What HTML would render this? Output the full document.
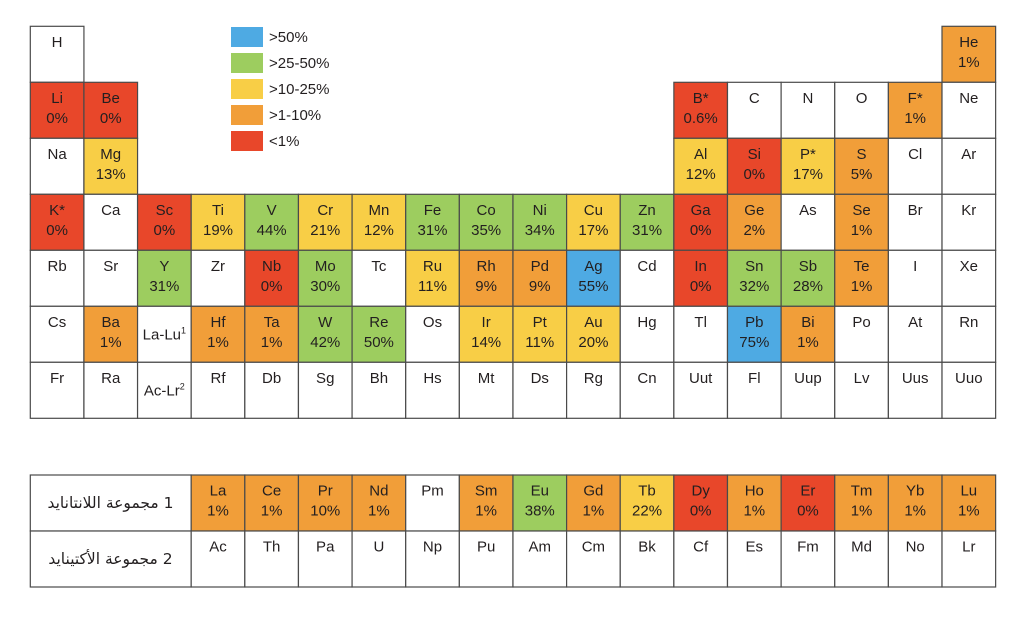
<!DOCTYPE html>
<html><head><meta charset="utf-8">
<style>
html,body{margin:0;padding:0;background:#fff;}
body{width:1024px;height:620px;position:relative;overflow:hidden;}
svg{position:absolute;left:0;top:0;}
svg text{font-family:"Liberation Sans",sans-serif;font-size:15px;fill:#231f20;text-anchor:middle;}
svg text.lg{text-anchor:start;}
svg rect.c{stroke:#4a4a4a;stroke-width:1.2;}
.ar{position:absolute;left:30px;width:161px;text-align:center;font-family:"DejaVu Sans",sans-serif;font-size:15.5px;color:#231f20;direction:rtl;line-height:20px;}
</style></head><body>
<svg width="1024" height="620" viewBox="0 0 1024 620">
<!-- legend -->
<rect x="231" y="27" width="32" height="20" fill="#4eaae3"/>
<rect x="231" y="53" width="32" height="20" fill="#9dcd5f"/>
<rect x="231" y="79" width="32" height="20" fill="#f8ce46"/>
<rect x="231" y="105" width="32" height="20" fill="#f19e39"/>
<rect x="231" y="131" width="32" height="20" fill="#e8472a"/>
<text class="lg" x="269" y="42">&gt;50%</text>
<text class="lg" x="269" y="68">&gt;25-50%</text>
<text class="lg" x="269" y="94">&gt;10-25%</text>
<text class="lg" x="269" y="120">&gt;1-10%</text>
<text class="lg" x="269" y="146">&lt;1%</text>

<!-- Row 1 -->
<g transform="translate(30.3,26.3)"><rect class="c" width="53.63" height="56" fill="#fff"/><text x="26.8" y="20.5">H</text></g>
<g transform="translate(942.0,26.3)"><rect class="c" width="53.63" height="56" fill="#f19e39"/><text x="26.8" y="20.5">He</text><text x="26.8" y="40.5">1%</text></g>

<!-- Row 2 -->
<g transform="translate(30.3,82.3)"><rect class="c" width="53.63" height="56" fill="#e8472a"/><text x="26.8" y="20.5">Li</text><text x="26.8" y="40.5">0%</text></g>
<g transform="translate(83.93,82.3)"><rect class="c" width="53.63" height="56" fill="#e8472a"/><text x="26.8" y="20.5">Be</text><text x="26.8" y="40.5">0%</text></g>
<g transform="translate(673.86,82.3)"><rect class="c" width="53.63" height="56" fill="#e8472a"/><text x="26.8" y="20.5">B*</text><text x="26.8" y="40.5">0.6%</text></g>
<g transform="translate(727.49,82.3)"><rect class="c" width="53.63" height="56" fill="#fff"/><text x="26.8" y="20.5">C</text></g>
<g transform="translate(781.12,82.3)"><rect class="c" width="53.63" height="56" fill="#fff"/><text x="26.8" y="20.5">N</text></g>
<g transform="translate(834.75,82.3)"><rect class="c" width="53.63" height="56" fill="#fff"/><text x="26.8" y="20.5">O</text></g>
<g transform="translate(888.38,82.3)"><rect class="c" width="53.63" height="56" fill="#f19e39"/><text x="26.8" y="20.5">F*</text><text x="26.8" y="40.5">1%</text></g>
<g transform="translate(942.01,82.3)"><rect class="c" width="53.63" height="56" fill="#fff"/><text x="26.8" y="20.5">Ne</text></g>

<!-- Row 3 -->
<g transform="translate(30.3,138.3)"><rect class="c" width="53.63" height="56" fill="#fff"/><text x="26.8" y="20.5">Na</text></g>
<g transform="translate(83.93,138.3)"><rect class="c" width="53.63" height="56" fill="#f8ce46"/><text x="26.8" y="20.5">Mg</text><text x="26.8" y="40.5">13%</text></g>
<g transform="translate(673.86,138.3)"><rect class="c" width="53.63" height="56" fill="#f8ce46"/><text x="26.8" y="20.5">Al</text><text x="26.8" y="40.5">12%</text></g>
<g transform="translate(727.49,138.3)"><rect class="c" width="53.63" height="56" fill="#e8472a"/><text x="26.8" y="20.5">Si</text><text x="26.8" y="40.5">0%</text></g>
<g transform="translate(781.12,138.3)"><rect class="c" width="53.63" height="56" fill="#f8ce46"/><text x="26.8" y="20.5">P*</text><text x="26.8" y="40.5">17%</text></g>
<g transform="translate(834.75,138.3)"><rect class="c" width="53.63" height="56" fill="#f19e39"/><text x="26.8" y="20.5">S</text><text x="26.8" y="40.5">5%</text></g>
<g transform="translate(888.38,138.3)"><rect class="c" width="53.63" height="56" fill="#fff"/><text x="26.8" y="20.5">Cl</text></g>
<g transform="translate(942.01,138.3)"><rect class="c" width="53.63" height="56" fill="#fff"/><text x="26.8" y="20.5">Ar</text></g>

<!-- Row 4 -->
<g transform="translate(30.3,194.3)"><rect class="c" width="53.63" height="56" fill="#e8472a"/><text x="26.8" y="20.5">K*</text><text x="26.8" y="40.5">0%</text></g>
<g transform="translate(83.93,194.3)"><rect class="c" width="53.63" height="56" fill="#fff"/><text x="26.8" y="20.5">Ca</text></g>
<g transform="translate(137.56,194.3)"><rect class="c" width="53.63" height="56" fill="#e8472a"/><text x="26.8" y="20.5">Sc</text><text x="26.8" y="40.5">0%</text></g>
<g transform="translate(191.19,194.3)"><rect class="c" width="53.63" height="56" fill="#f8ce46"/><text x="26.8" y="20.5">Ti</text><text x="26.8" y="40.5">19%</text></g>
<g transform="translate(244.82,194.3)"><rect class="c" width="53.63" height="56" fill="#9dcd5f"/><text x="26.8" y="20.5">V</text><text x="26.8" y="40.5">44%</text></g>
<g transform="translate(298.45,194.3)"><rect class="c" width="53.63" height="56" fill="#f8ce46"/><text x="26.8" y="20.5">Cr</text><text x="26.8" y="40.5">21%</text></g>
<g transform="translate(352.08,194.3)"><rect class="c" width="53.63" height="56" fill="#f8ce46"/><text x="26.8" y="20.5">Mn</text><text x="26.8" y="40.5">12%</text></g>
<g transform="translate(405.71,194.3)"><rect class="c" width="53.63" height="56" fill="#9dcd5f"/><text x="26.8" y="20.5">Fe</text><text x="26.8" y="40.5">31%</text></g>
<g transform="translate(459.34,194.3)"><rect class="c" width="53.63" height="56" fill="#9dcd5f"/><text x="26.8" y="20.5">Co</text><text x="26.8" y="40.5">35%</text></g>
<g transform="translate(512.97,194.3)"><rect class="c" width="53.63" height="56" fill="#9dcd5f"/><text x="26.8" y="20.5">Ni</text><text x="26.8" y="40.5">34%</text></g>
<g transform="translate(566.6,194.3)"><rect class="c" width="53.63" height="56" fill="#f8ce46"/><text x="26.8" y="20.5">Cu</text><text x="26.8" y="40.5">17%</text></g>
<g transform="translate(620.23,194.3)"><rect class="c" width="53.63" height="56" fill="#9dcd5f"/><text x="26.8" y="20.5">Zn</text><text x="26.8" y="40.5">31%</text></g>
<g transform="translate(673.86,194.3)"><rect class="c" width="53.63" height="56" fill="#e8472a"/><text x="26.8" y="20.5">Ga</text><text x="26.8" y="40.5">0%</text></g>
<g transform="translate(727.49,194.3)"><rect class="c" width="53.63" height="56" fill="#f19e39"/><text x="26.8" y="20.5">Ge</text><text x="26.8" y="40.5">2%</text></g>
<g transform="translate(781.12,194.3)"><rect class="c" width="53.63" height="56" fill="#fff"/><text x="26.8" y="20.5">As</text></g>
<g transform="translate(834.75,194.3)"><rect class="c" width="53.63" height="56" fill="#f19e39"/><text x="26.8" y="20.5">Se</text><text x="26.8" y="40.5">1%</text></g>
<g transform="translate(888.38,194.3)"><rect class="c" width="53.63" height="56" fill="#fff"/><text x="26.8" y="20.5">Br</text></g>
<g transform="translate(942.01,194.3)"><rect class="c" width="53.63" height="56" fill="#fff"/><text x="26.8" y="20.5">Kr</text></g>

<!-- Row 5 -->
<g transform="translate(30.3,250.3)"><rect class="c" width="53.63" height="56" fill="#fff"/><text x="26.8" y="20.5">Rb</text></g>
<g transform="translate(83.93,250.3)"><rect class="c" width="53.63" height="56" fill="#fff"/><text x="26.8" y="20.5">Sr</text></g>
<g transform="translate(137.56,250.3)"><rect class="c" width="53.63" height="56" fill="#9dcd5f"/><text x="26.8" y="20.5">Y</text><text x="26.8" y="40.5">31%</text></g>
<g transform="translate(191.19,250.3)"><rect class="c" width="53.63" height="56" fill="#fff"/><text x="26.8" y="20.5">Zr</text></g>
<g transform="translate(244.82,250.3)"><rect class="c" width="53.63" height="56" fill="#e8472a"/><text x="26.8" y="20.5">Nb</text><text x="26.8" y="40.5">0%</text></g>
<g transform="translate(298.45,250.3)"><rect class="c" width="53.63" height="56" fill="#9dcd5f"/><text x="26.8" y="20.5">Mo</text><text x="26.8" y="40.5">30%</text></g>
<g transform="translate(352.08,250.3)"><rect class="c" width="53.63" height="56" fill="#fff"/><text x="26.8" y="20.5">Tc</text></g>
<g transform="translate(405.71,250.3)"><rect class="c" width="53.63" height="56" fill="#f8ce46"/><text x="26.8" y="20.5">Ru</text><text x="26.8" y="40.5">11%</text></g>
<g transform="translate(459.34,250.3)"><rect class="c" width="53.63" height="56" fill="#f19e39"/><text x="26.8" y="20.5">Rh</text><text x="26.8" y="40.5">9%</text></g>
<g transform="translate(512.97,250.3)"><rect class="c" width="53.63" height="56" fill="#f19e39"/><text x="26.8" y="20.5">Pd</text><text x="26.8" y="40.5">9%</text></g>
<g transform="translate(566.6,250.3)"><rect class="c" width="53.63" height="56" fill="#4eaae3"/><text x="26.8" y="20.5">Ag</text><text x="26.8" y="40.5">55%</text></g>
<g transform="translate(620.23,250.3)"><rect class="c" width="53.63" height="56" fill="#fff"/><text x="26.8" y="20.5">Cd</text></g>
<g transform="translate(673.86,250.3)"><rect class="c" width="53.63" height="56" fill="#e8472a"/><text x="26.8" y="20.5">In</text><text x="26.8" y="40.5">0%</text></g>
<g transform="translate(727.49,250.3)"><rect class="c" width="53.63" height="56" fill="#9dcd5f"/><text x="26.8" y="20.5">Sn</text><text x="26.8" y="40.5">32%</text></g>
<g transform="translate(781.12,250.3)"><rect class="c" width="53.63" height="56" fill="#9dcd5f"/><text x="26.8" y="20.5">Sb</text><text x="26.8" y="40.5">28%</text></g>
<g transform="translate(834.75,250.3)"><rect class="c" width="53.63" height="56" fill="#f19e39"/><text x="26.8" y="20.5">Te</text><text x="26.8" y="40.5">1%</text></g>
<g transform="translate(888.38,250.3)"><rect class="c" width="53.63" height="56" fill="#fff"/><text x="26.8" y="20.5">I</text></g>
<g transform="translate(942.01,250.3)"><rect class="c" width="53.63" height="56" fill="#fff"/><text x="26.8" y="20.5">Xe</text></g>

<!-- Row 6 -->
<g transform="translate(30.3,306.3)"><rect class="c" width="53.63" height="56" fill="#fff"/><text x="26.8" y="20.5">Cs</text></g>
<g transform="translate(83.93,306.3)"><rect class="c" width="53.63" height="56" fill="#f19e39"/><text x="26.8" y="20.5">Ba</text><text x="26.8" y="40.5">1%</text></g>
<g transform="translate(137.56,306.3)"><rect class="c" width="53.63" height="56" fill="#fff"/><text x="26.8" y="33">La-Lu<tspan font-size="9" dy="-6">1</tspan></text></g>
<g transform="translate(191.19,306.3)"><rect class="c" width="53.63" height="56" fill="#f19e39"/><text x="26.8" y="20.5">Hf</text><text x="26.8" y="40.5">1%</text></g>
<g transform="translate(244.82,306.3)"><rect class="c" width="53.63" height="56" fill="#f19e39"/><text x="26.8" y="20.5">Ta</text><text x="26.8" y="40.5">1%</text></g>
<g transform="translate(298.45,306.3)"><rect class="c" width="53.63" height="56" fill="#9dcd5f"/><text x="26.8" y="20.5">W</text><text x="26.8" y="40.5">42%</text></g>
<g transform="translate(352.08,306.3)"><rect class="c" width="53.63" height="56" fill="#9dcd5f"/><text x="26.8" y="20.5">Re</text><text x="26.8" y="40.5">50%</text></g>
<g transform="translate(405.71,306.3)"><rect class="c" width="53.63" height="56" fill="#fff"/><text x="26.8" y="20.5">Os</text></g>
<g transform="translate(459.34,306.3)"><rect class="c" width="53.63" height="56" fill="#f8ce46"/><text x="26.8" y="20.5">Ir</text><text x="26.8" y="40.5">14%</text></g>
<g transform="translate(512.97,306.3)"><rect class="c" width="53.63" height="56" fill="#f8ce46"/><text x="26.8" y="20.5">Pt</text><text x="26.8" y="40.5">11%</text></g>
<g transform="translate(566.6,306.3)"><rect class="c" width="53.63" height="56" fill="#f8ce46"/><text x="26.8" y="20.5">Au</text><text x="26.8" y="40.5">20%</text></g>
<g transform="translate(620.23,306.3)"><rect class="c" width="53.63" height="56" fill="#fff"/><text x="26.8" y="20.5">Hg</text></g>
<g transform="translate(673.86,306.3)"><rect class="c" width="53.63" height="56" fill="#fff"/><text x="26.8" y="20.5">Tl</text></g>
<g transform="translate(727.49,306.3)"><rect class="c" width="53.63" height="56" fill="#4eaae3"/><text x="26.8" y="20.5">Pb</text><text x="26.8" y="40.5">75%</text></g>
<g transform="translate(781.12,306.3)"><rect class="c" width="53.63" height="56" fill="#f19e39"/><text x="26.8" y="20.5">Bi</text><text x="26.8" y="40.5">1%</text></g>
<g transform="translate(834.75,306.3)"><rect class="c" width="53.63" height="56" fill="#fff"/><text x="26.8" y="20.5">Po</text></g>
<g transform="translate(888.38,306.3)"><rect class="c" width="53.63" height="56" fill="#fff"/><text x="26.8" y="20.5">At</text></g>
<g transform="translate(942.01,306.3)"><rect class="c" width="53.63" height="56" fill="#fff"/><text x="26.8" y="20.5">Rn</text></g>

<!-- Row 7 -->
<g transform="translate(30.3,362.3)"><rect class="c" width="53.63" height="56" fill="#fff"/><text x="26.8" y="20.5">Fr</text></g>
<g transform="translate(83.93,362.3)"><rect class="c" width="53.63" height="56" fill="#fff"/><text x="26.8" y="20.5">Ra</text></g>
<g transform="translate(137.56,362.3)"><rect class="c" width="53.63" height="56" fill="#fff"/><text x="26.8" y="33">Ac-Lr<tspan font-size="9" dy="-6">2</tspan></text></g>
<g transform="translate(191.19,362.3)"><rect class="c" width="53.63" height="56" fill="#fff"/><text x="26.8" y="20.5">Rf</text></g>
<g transform="translate(244.82,362.3)"><rect class="c" width="53.63" height="56" fill="#fff"/><text x="26.8" y="20.5">Db</text></g>
<g transform="translate(298.45,362.3)"><rect class="c" width="53.63" height="56" fill="#fff"/><text x="26.8" y="20.5">Sg</text></g>
<g transform="translate(352.08,362.3)"><rect class="c" width="53.63" height="56" fill="#fff"/><text x="26.8" y="20.5">Bh</text></g>
<g transform="translate(405.71,362.3)"><rect class="c" width="53.63" height="56" fill="#fff"/><text x="26.8" y="20.5">Hs</text></g>
<g transform="translate(459.34,362.3)"><rect class="c" width="53.63" height="56" fill="#fff"/><text x="26.8" y="20.5">Mt</text></g>
<g transform="translate(512.97,362.3)"><rect class="c" width="53.63" height="56" fill="#fff"/><text x="26.8" y="20.5">Ds</text></g>
<g transform="translate(566.6,362.3)"><rect class="c" width="53.63" height="56" fill="#fff"/><text x="26.8" y="20.5">Rg</text></g>
<g transform="translate(620.23,362.3)"><rect class="c" width="53.63" height="56" fill="#fff"/><text x="26.8" y="20.5">Cn</text></g>
<g transform="translate(673.86,362.3)"><rect class="c" width="53.63" height="56" fill="#fff"/><text x="26.8" y="20.5">Uut</text></g>
<g transform="translate(727.49,362.3)"><rect class="c" width="53.63" height="56" fill="#fff"/><text x="26.8" y="20.5">Fl</text></g>
<g transform="translate(781.12,362.3)"><rect class="c" width="53.63" height="56" fill="#fff"/><text x="26.8" y="20.5">Uup</text></g>
<g transform="translate(834.75,362.3)"><rect class="c" width="53.63" height="56" fill="#fff"/><text x="26.8" y="20.5">Lv</text></g>
<g transform="translate(888.38,362.3)"><rect class="c" width="53.63" height="56" fill="#fff"/><text x="26.8" y="20.5">Uus</text></g>
<g transform="translate(942.01,362.3)"><rect class="c" width="53.63" height="56" fill="#fff"/><text x="26.8" y="20.5">Uuo</text></g>

<!-- Lanthanides -->
<rect class="c" x="30.3" y="475" width="160.89" height="56" fill="#fff"/>
<g transform="translate(191.19,475)"><rect class="c" width="53.63" height="56" fill="#f19e39"/><text x="26.8" y="20.5">La</text><text x="26.8" y="40.5">1%</text></g>
<g transform="translate(244.82,475)"><rect class="c" width="53.63" height="56" fill="#f19e39"/><text x="26.8" y="20.5">Ce</text><text x="26.8" y="40.5">1%</text></g>
<g transform="translate(298.45,475)"><rect class="c" width="53.63" height="56" fill="#f19e39"/><text x="26.8" y="20.5">Pr</text><text x="26.8" y="40.5">10%</text></g>
<g transform="translate(352.08,475)"><rect class="c" width="53.63" height="56" fill="#f19e39"/><text x="26.8" y="20.5">Nd</text><text x="26.8" y="40.5">1%</text></g>
<g transform="translate(405.71,475)"><rect class="c" width="53.63" height="56" fill="#fff"/><text x="26.8" y="20.5">Pm</text></g>
<g transform="translate(459.34,475)"><rect class="c" width="53.63" height="56" fill="#f19e39"/><text x="26.8" y="20.5">Sm</text><text x="26.8" y="40.5">1%</text></g>
<g transform="translate(512.97,475)"><rect class="c" width="53.63" height="56" fill="#9dcd5f"/><text x="26.8" y="20.5">Eu</text><text x="26.8" y="40.5">38%</text></g>
<g transform="translate(566.6,475)"><rect class="c" width="53.63" height="56" fill="#f19e39"/><text x="26.8" y="20.5">Gd</text><text x="26.8" y="40.5">1%</text></g>
<g transform="translate(620.23,475)"><rect class="c" width="53.63" height="56" fill="#f8ce46"/><text x="26.8" y="20.5">Tb</text><text x="26.8" y="40.5">22%</text></g>
<g transform="translate(673.86,475)"><rect class="c" width="53.63" height="56" fill="#e8472a"/><text x="26.8" y="20.5">Dy</text><text x="26.8" y="40.5">0%</text></g>
<g transform="translate(727.49,475)"><rect class="c" width="53.63" height="56" fill="#f19e39"/><text x="26.8" y="20.5">Ho</text><text x="26.8" y="40.5">1%</text></g>
<g transform="translate(781.12,475)"><rect class="c" width="53.63" height="56" fill="#e8472a"/><text x="26.8" y="20.5">Er</text><text x="26.8" y="40.5">0%</text></g>
<g transform="translate(834.75,475)"><rect class="c" width="53.63" height="56" fill="#f19e39"/><text x="26.8" y="20.5">Tm</text><text x="26.8" y="40.5">1%</text></g>
<g transform="translate(888.38,475)"><rect class="c" width="53.63" height="56" fill="#f19e39"/><text x="26.8" y="20.5">Yb</text><text x="26.8" y="40.5">1%</text></g>
<g transform="translate(942.01,475)"><rect class="c" width="53.63" height="56" fill="#f19e39"/><text x="26.8" y="20.5">Lu</text><text x="26.8" y="40.5">1%</text></g>

<!-- Actinides -->
<rect class="c" x="30.3" y="531" width="160.89" height="56" fill="#fff"/>
<g transform="translate(191.19,531)"><rect class="c" width="53.63" height="56" fill="#fff"/><text x="26.8" y="20.5">Ac</text></g>
<g transform="translate(244.82,531)"><rect class="c" width="53.63" height="56" fill="#fff"/><text x="26.8" y="20.5">Th</text></g>
<g transform="translate(298.45,531)"><rect class="c" width="53.63" height="56" fill="#fff"/><text x="26.8" y="20.5">Pa</text></g>
<g transform="translate(352.08,531)"><rect class="c" width="53.63" height="56" fill="#fff"/><text x="26.8" y="20.5">U</text></g>
<g transform="translate(405.71,531)"><rect class="c" width="53.63" height="56" fill="#fff"/><text x="26.8" y="20.5">Np</text></g>
<g transform="translate(459.34,531)"><rect class="c" width="53.63" height="56" fill="#fff"/><text x="26.8" y="20.5">Pu</text></g>
<g transform="translate(512.97,531)"><rect class="c" width="53.63" height="56" fill="#fff"/><text x="26.8" y="20.5">Am</text></g>
<g transform="translate(566.6,531)"><rect class="c" width="53.63" height="56" fill="#fff"/><text x="26.8" y="20.5">Cm</text></g>
<g transform="translate(620.23,531)"><rect class="c" width="53.63" height="56" fill="#fff"/><text x="26.8" y="20.5">Bk</text></g>
<g transform="translate(673.86,531)"><rect class="c" width="53.63" height="56" fill="#fff"/><text x="26.8" y="20.5">Cf</text></g>
<g transform="translate(727.49,531)"><rect class="c" width="53.63" height="56" fill="#fff"/><text x="26.8" y="20.5">Es</text></g>
<g transform="translate(781.12,531)"><rect class="c" width="53.63" height="56" fill="#fff"/><text x="26.8" y="20.5">Fm</text></g>
<g transform="translate(834.75,531)"><rect class="c" width="53.63" height="56" fill="#fff"/><text x="26.8" y="20.5">Md</text></g>
<g transform="translate(888.38,531)"><rect class="c" width="53.63" height="56" fill="#fff"/><text x="26.8" y="20.5">No</text></g>
<g transform="translate(942.01,531)"><rect class="c" width="53.63" height="56" fill="#fff"/><text x="26.8" y="20.5">Lr</text></g>
</svg>
<div class="ar" style="top:493px;">1 مجموعة اللانتانايد</div>
<div class="ar" style="top:549px;">2 مجموعة الأكتينايد</div>
</body></html>
